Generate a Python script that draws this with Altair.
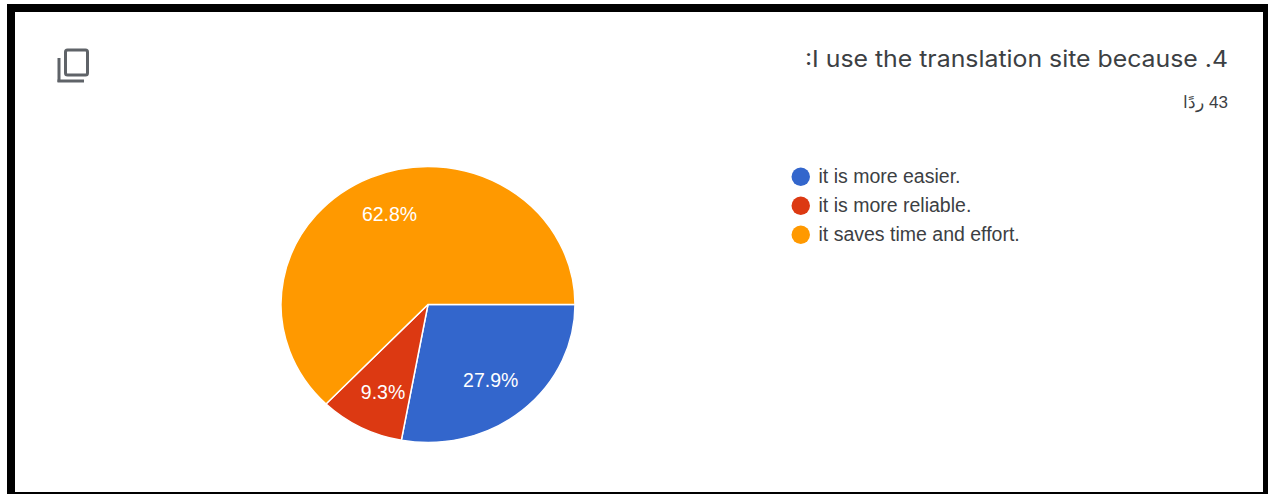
import math
import altair as alt
import pandas as pd

# Survey answers and their shares of the 43 responses
categories = ["it is more easier.", "it is more reliable.", "it saves time and effort."]
shares = [27.9, 9.3, 62.8]
share_labels = ["27.9%", "9.3%", "62.8%"]
slice_order = [0, 1, 2]
colors = ["#3366cc", "#dc3912", "#ff9900"]

title_text = ":I use the translation site because .4"
count_text = "ردًا\u200e 43"

W, H = 1268, 494
CX, CY, R = 428, 304.5, 147
# The pie is slightly flattened vertically, the heading slightly widened
PIE_FLATTEN = 0.9386
TITLE_WIDEN = 1.104

slices = pd.DataFrame(
    {"answer": categories, "share": shares, "label": share_labels, "rank": slice_order}
)
one = pd.DataFrame({"a": [0]})


def box(x, x2, y, y2, **mark):
    """A rectangle placed in pixel space, used for the frame and the copy icon."""
    return (
        alt.Chart(one)
        .mark_rect(**mark)
        .encode(x=alt.value(x), x2=alt.value(x2), y=alt.value(y), y2=alt.value(y2))
    )


def caption(text, x, y, **mark):
    return (
        alt.Chart(one)
        .mark_text(text=text, align="right", baseline="middle", **mark)
        .encode(x=alt.value(x), y=alt.value(y))
    )


angle_scale = alt.Scale(domain=[0, 100], range=[math.pi / 2, 5 * math.pi / 2])

pie = (
    alt.Chart(slices)
    .mark_arc(outerRadius=R, stroke="white", strokeWidth=1.5)
    .encode(
        theta=alt.Theta("share:Q", stack=True, scale=angle_scale),
        order=alt.Order("rank:O"),
        x=alt.value(CX),
        y=alt.value(CY),
        color=alt.Color(
            "answer:N",
            sort=categories,
            scale=alt.Scale(domain=categories, range=colors),
            legend=alt.Legend(
                title=None,
                orient="none",
                legendX=791,
                legendY=167,
                symbolType="circle",
                symbolSize=340,
                symbolStrokeWidth=0,
                labelFont="Liberation Sans",
                labelFontSize=19.5,
                labelColor="#3c4043",
                labelOffset=8,
                rowPadding=8,
                labelLimit=400,
            ),
        ),
    )
)

# Each label sits at the angular middle of its slice; the radius scale lists
# its range in ascending order, so the domain follows that order too
pie_labels = (
    alt.Chart(slices)
    .transform_stack(
        stack="share", as_=["start", "end"], groupby=[], sort=[{"field": "rank", "order": "ascending"}]
    )
    .transform_calculate(middle="(datum.start + datum.end) / 2")
    .mark_text(color="white", font="Liberation Sans", fontSize=19.5, dy=1)
    .encode(
        theta=alt.Theta("middle:Q", stack=None, scale=angle_scale),
        radius=alt.Radius(
            "answer:N",
            scale=alt.Scale(
                type="ordinal",
                domain=[categories[0], categories[2], categories[1]],
                range=[98, 98.5, 103],
            ),
        ),
        x=alt.value(CX),
        y=alt.value(CY),
        text="label:N",
    )
)

# Flatten the slices about the pie centre and widen the heading from its right end
page_style = (
    f".mark-arc path {{transform: translate({CX}px, {CY}px) scale(1, {PIE_FLATTEN}) !important;}}"
    f".layer_5_marks {{transform-origin: 1228px 59px; transform: scaleX({TITLE_WIDEN});}}"
)

chart = (
    alt.layer(
        # Black frame around the white card
        box(7, W, 4, H, color="black"),
        box(15, 1263, 12, 492, color="white"),
        # Copy icon
        box(65.5, 87.5, 50, 75, fill="white", stroke="#5f6368", strokeWidth=3, cornerRadius=2),
        box(57.5, 60.5, 58, 82, color="#5f6368"),
        box(57.5, 84, 79.5, 82.5, color="#5f6368"),
        caption(title_text, 1228, 59.5, font="Inter", fontSize=22.5, color="#3c4043"),
        caption(count_text, 1228, 102.5, font="Liberation Sans", fontSize=17, color="#3c4043"),
        pie,
        pie_labels,
    )
    .properties(
        width=W,
        height=H,
        padding=0,
        autosize=alt.AutoSizeParams(type="none"),
        background="white",
    )
    .configure_view(stroke=None)
)

chart.save(
    "out.html",
    embed_options={"renderer": "svg", "actions": False, "defaultStyle": page_style},
)
